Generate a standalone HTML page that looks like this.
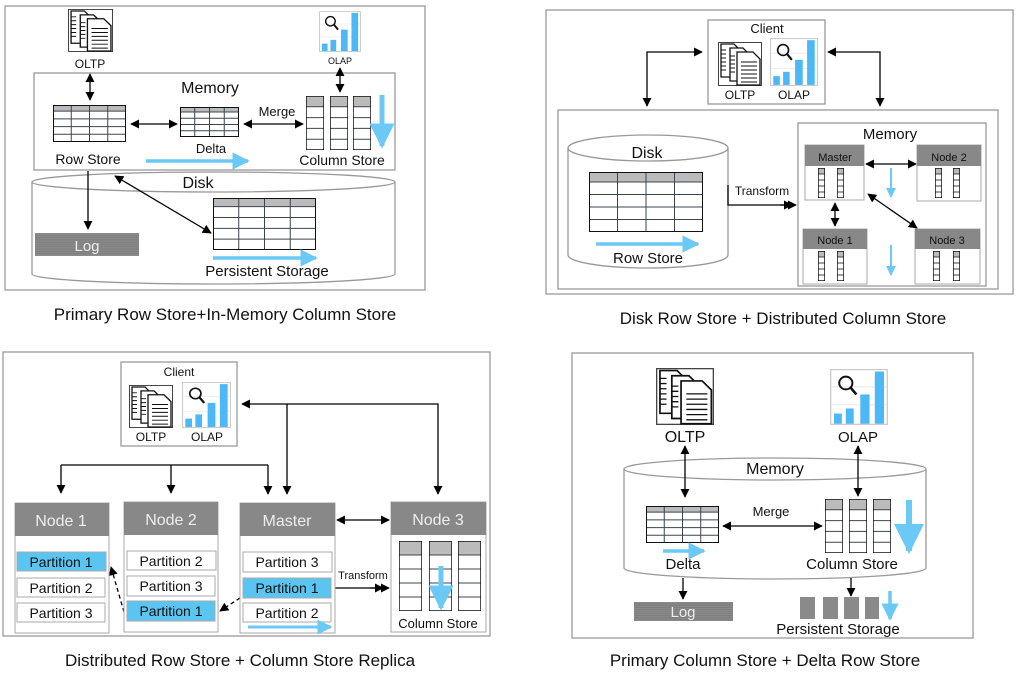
<!DOCTYPE html>
<html><head><meta charset="utf-8"><style>
html,body{margin:0;padding:0;background:#fff;}
svg{display:block;font-family:"Liberation Sans",Arial,sans-serif;}
</style></head><body>
<svg width="1024" height="684" viewBox="0 0 1024 684" xmlns="http://www.w3.org/2000/svg">
<defs>
<marker id="a" viewBox="0 0 10 10" refX="9" refY="5" markerWidth="7" markerHeight="7" orient="auto-start-reverse"><path d="M0,0 L10,5 L0,10 z" fill="#000"/></marker>
<marker id="b" viewBox="0 0 10 10" refX="9" refY="5" markerWidth="5" markerHeight="5" orient="auto-start-reverse"><path d="M0,0 L10,5 L0,10 z" fill="#6cc8f5"/></marker>
<symbol id="oltp" viewBox="0 0 44 44" preserveAspectRatio="none">
<rect x="0.5" y="0.5" width="43" height="43" fill="#fff" stroke="#444"/>
<path d="M3,2 h13 l5,5 v28 h-18z" fill="#fff" stroke="#111" stroke-width="1.3"/>
<path d="M3,8 h5 M3,12 h5 M3,16 h5 M3,20 h5 M3,24 h5 M3,28 h5" stroke="#111"/>
<path d="M12,6 h13 l5,5 v28 h-18z" fill="#fff" stroke="#111" stroke-width="1.3"/>
<path d="M12,14 h5 M12,18 h5 M12,22 h5 M12,26 h5 M12,30 h5" stroke="#111"/>
<path d="M19,10 h16 l7,7 v26 h-23z" fill="#fff" stroke="#111" stroke-width="1.3"/>
<path d="M23,20 h16 M23,24 h16 M23,28 h16 M23,32 h16 M23,36 h16 M23,40 h16" stroke="#111"/>
</symbol>
<symbol id="olap" viewBox="0 0 44 44" preserveAspectRatio="none">
<rect x="0.5" y="0.5" width="43" height="43" fill="#fff" stroke="#ccc"/>
<path d="M1,14 h42 M1,28 h42" stroke="#eee"/>
<circle cx="12" cy="11" r="5" fill="none" stroke="#111" stroke-width="1.5"/>
<path d="M15.5,14.5 L20,20" stroke="#111" stroke-width="2"/>
<rect x="3" y="35" width="6" height="8" fill="#4cb8f5"/>
<rect x="12" y="31" width="6" height="12" fill="#4cb8f5"/>
<rect x="23" y="20" width="7" height="23" fill="#4cb8f5"/>
<rect x="34" y="2" width="7" height="41" fill="#4cb8f5"/>
</symbol>
<symbol id="tbl" viewBox="0 0 100 60" preserveAspectRatio="none">
<rect x="0" y="0" width="100" height="60" fill="#fff"/>
<rect x="0" y="0" width="100" height="10" fill="#bbb"/>
<g stroke="#3a4550" stroke-width="1" fill="none">
<path d="M0,10H100M0,22.5H100M0,35H100M0,47.5H100M25,0V60M50,0V60M75,0V60" vector-effect="non-scaling-stroke"/>
<rect x="0" y="0" width="100" height="60" vector-effect="non-scaling-stroke" stroke="#111" stroke-width="2"/>
</g>
</symbol>
<symbol id="col" viewBox="0 0 20 60" preserveAspectRatio="none">
<rect x="0" y="0" width="20" height="60" fill="#fff"/>
<rect x="0" y="0" width="20" height="12" fill="#bbb"/>
<path d="M0,12H20M0,24H20M0,36H20M0,48H20" stroke="#3a4550" vector-effect="non-scaling-stroke"/>
<rect x="0" y="0" width="20" height="60" fill="none" stroke="#111" stroke-width="1.5" vector-effect="non-scaling-stroke"/>
</symbol>
<symbol id="log" viewBox="0 0 100 20" preserveAspectRatio="none">
<rect width="100" height="20" fill="#8a8a8a"/>
<path d="M0,2H100M0,4H100M0,6H100M0,8H100M0,10H100M0,12H100M0,14H100M0,16H100M0,18H100" stroke="#777" stroke-width="0.6" vector-effect="non-scaling-stroke"/>
</symbol>
</defs>

<g fill="none" stroke="#000" stroke-width="1.3">
<rect x="5" y="6" width="420" height="284" stroke="#999" fill="none"/>
<rect x="34" y="73" width="361" height="97" stroke="#999"/>
<path d="M32,182 V274 A181.5,10 0 0 0 395,274 V182" stroke="#999"/>
<ellipse cx="213.5" cy="182" rx="181.5" ry="10" stroke="#999"/>
<path d="M90,74 V100" marker-start="url(#a)" marker-end="url(#a)"/>
<path d="M340,68 V92" marker-start="url(#a)" marker-end="url(#a)"/>
<path d="M131,124 H177" marker-start="url(#a)" marker-end="url(#a)"/>
<path d="M244,124 H303" marker-start="url(#a)" marker-end="url(#a)"/>
<path d="M88,171 V229" marker-end="url(#a)"/>
<path d="M115,176 L211,233" marker-start="url(#a)" marker-end="url(#a)"/>
</g>
<use href="#oltp" x="68" y="9" width="45" height="43"/>
<use href="#olap" x="319" y="11" width="42" height="41"/>
<use href="#tbl" x="53" y="105" width="73" height="37"/>
<use href="#tbl" x="180" y="107" width="59" height="30"/>
<use href="#col" x="306" y="96" width="18" height="54"/>
<use href="#col" x="330" y="96" width="18" height="54"/>
<use href="#col" x="353" y="96" width="18" height="54"/>
<use href="#tbl" x="213" y="198" width="103" height="52"/>
<use href="#log" x="35" y="233" width="104" height="23"/>
<g stroke="#6cc8f5" fill="none">
<path d="M382,95 V146" stroke-width="5" marker-end="url(#b)"/>
<path d="M146,161 H248" stroke-width="3.5" marker-end="url(#b)"/>
<path d="M213,258 H316" stroke-width="3.5" marker-end="url(#b)"/>
</g>
<g font-size="12" fill="#111" text-anchor="middle">
<text x="90" y="68">OLTP</text>
<text x="340" y="64" font-size="9">OLAP</text>
<text x="210" y="93" font-size="16">Memory</text>
<text x="277" y="116" font-size="13">Merge</text>
<text x="211" y="153" font-size="13">Delta</text>
<text x="88" y="164" font-size="14">Row Store</text>
<text x="342" y="165" font-size="14">Column Store</text>
<text x="198" y="188" font-size="16">Disk</text>
<text x="87" y="251" font-size="15" fill="#eee">Log</text>
<text x="267" y="276" font-size="15">Persistent Storage</text>
<text x="225" y="320" font-size="17">Primary Row Store+In-Memory Column Store</text>
</g>

<g fill="none" stroke="#000" stroke-width="1.3">
<rect x="546" y="10" width="467" height="284" stroke="#999"/>
<rect x="708" y="20" width="117" height="84" stroke="#999"/>
<rect x="558" y="110" width="440" height="179" stroke="#999"/>
<path d="M568,148 V255 A80,13 0 0 0 728,255 V148" stroke="#999"/>
<ellipse cx="648" cy="148" rx="80" ry="13" stroke="#999"/>
<rect x="798" y="123" width="188" height="163" stroke="#999"/>
<path d="M702,52 H647 V106" marker-start="url(#a)" marker-end="url(#a)"/>
<path d="M828,52 H880 V106" marker-start="url(#a)" marker-end="url(#a)"/>
<path d="M728,185 V205 H796" marker-end="url(#a)"/>
<path d="M780,205 H792" marker-end="url(#a)"/>
<path d="M866,164 H916" marker-start="url(#a)" marker-end="url(#a)"/>
<path d="M835,203 V226" marker-start="url(#a)" marker-end="url(#a)"/>
<path d="M868,194 L917,228" marker-start="url(#a)" marker-end="url(#a)"/>
</g>
<use href="#oltp" x="718" y="42" width="44" height="44"/>
<use href="#olap" x="770" y="38" width="48" height="48"/>
<use href="#tbl" x="589" y="172" width="114" height="60"/>
<g stroke="#6cc8f5" fill="none">
<path d="M596,244 H698" stroke-width="3.5" marker-end="url(#b)"/>
<path d="M891,168 V197" stroke-width="2" marker-end="url(#b)"/>
<path d="M891,245 V275" stroke-width="2" marker-end="url(#b)"/>
</g>
<g stroke="#aaa" fill="#fff">
<rect x="805" y="145" width="59" height="55"/><rect x="805" y="145" width="59" height="21" fill="#888" stroke="none"/>
<rect x="917" y="145" width="64" height="56"/><rect x="917" y="145" width="64" height="21" fill="#888" stroke="none"/>
<rect x="803" y="229" width="64" height="55"/><rect x="803" y="229" width="64" height="20" fill="#888" stroke="none"/>
<rect x="915" y="229" width="65" height="55"/><rect x="915" y="229" width="65" height="20" fill="#888" stroke="none"/>
</g>
<use href="#col" x="818" y="168" width="7" height="30"/><use href="#col" x="837" y="168" width="7" height="30"/>
<use href="#col" x="935" y="168" width="7" height="30"/><use href="#col" x="953" y="168" width="7" height="30"/>
<use href="#col" x="818" y="251" width="7" height="30"/><use href="#col" x="837" y="251" width="7" height="30"/>
<use href="#col" x="933" y="251" width="7" height="30"/><use href="#col" x="953" y="251" width="7" height="30"/>
<g font-size="12" fill="#111" text-anchor="middle">
<text x="767" y="33" font-size="13">Client</text>
<text x="740" y="99">OLTP</text>
<text x="794" y="99">OLAP</text>
<text x="647" y="158" font-size="16">Disk</text>
<text x="648" y="263" font-size="15">Row Store</text>
<text x="762" y="195" font-size="12">Transform</text>
<text x="890" y="139" font-size="15">Memory</text>
<text x="835" y="161" font-size="11">Master</text>
<text x="949" y="161" font-size="11">Node 2</text>
<text x="835" y="244" font-size="11">Node 1</text>
<text x="947" y="244" font-size="11">Node 3</text>
<text x="783" y="324" font-size="17">Disk Row Store + Distributed Column Store</text>
</g>

<g fill="none" stroke="#000" stroke-width="1.3">
<rect x="3" y="352" width="487" height="284" stroke="#999"/>
<rect x="121" y="362" width="116" height="84" stroke="#999"/>
<path d="M242,404 H438 V494" marker-start="url(#a)" marker-end="url(#a)"/>
<path d="M287,404 V494" marker-end="url(#a)"/>
<path d="M61,465 H268"/>
<path d="M61,465 V493" marker-end="url(#a)"/>
<path d="M171,465 V493" marker-end="url(#a)"/>
<path d="M268,465 V494" marker-end="url(#a)"/>
<path d="M337,520 H389" marker-start="url(#a)" marker-end="url(#a)"/>
<path d="M333,588 H389" marker-end="url(#a)"/>
<path d="M370,588 H383" marker-end="url(#a)"/>
<path d="M240,598 L220,611" stroke-dasharray="4,3" marker-end="url(#a)"/>
<path d="M124,612 L111,567" stroke-dasharray="4,3" marker-end="url(#a)"/>
</g>
<use href="#oltp" x="129" y="385" width="44" height="43"/>
<use href="#olap" x="182" y="382" width="49" height="46"/>
<g stroke="#aaa" fill="#fff">
<rect x="15" y="503" width="94" height="130"/><rect x="15" y="503" width="94" height="33" fill="#888" stroke="none"/>
<rect x="124" y="502" width="94" height="130"/><rect x="124" y="502" width="94" height="33" fill="#888" stroke="none"/>
<rect x="240" y="503" width="95" height="130"/><rect x="240" y="503" width="95" height="33" fill="#888" stroke="none"/>
<rect x="391" y="502" width="95" height="130"/><rect x="391" y="502" width="95" height="33" fill="#888" stroke="none"/>
<rect x="17" y="552" width="89" height="19" fill="#5bc5f2"/>
<rect x="17" y="578" width="88" height="19"/>
<rect x="17" y="603" width="88" height="19"/>
<rect x="127" y="551" width="89" height="19"/>
<rect x="127" y="576" width="88" height="20"/>
<rect x="127" y="601" width="88" height="20" fill="#5bc5f2"/>
<rect x="243" y="552" width="89" height="20"/>
<rect x="243" y="578" width="88" height="20" fill="#5bc5f2"/>
<rect x="243" y="603" width="88" height="19"/>
</g>
<use href="#col" x="399" y="541" width="23" height="70"/>
<use href="#col" x="429" y="541" width="23" height="70"/>
<use href="#col" x="458" y="541" width="23" height="70"/>
<g stroke="#6cc8f5" fill="none">
<path d="M248,627 H331" stroke-width="3" marker-end="url(#b)"/>
<path d="M441,566 V608" stroke-width="5" marker-end="url(#b)"/>
</g>
<g font-size="14" fill="#111" text-anchor="middle">
<text x="179" y="376" font-size="12">Client</text>
<text x="151" y="441" font-size="12">OLTP</text>
<text x="207" y="441" font-size="12">OLAP</text>
<text x="61" y="526" font-size="16" fill="#eee">Node 1</text>
<text x="171" y="525" font-size="16" fill="#eee">Node 2</text>
<text x="287" y="526" font-size="16" fill="#eee">Master</text>
<text x="438" y="525" font-size="16" fill="#eee">Node 3</text>
<text x="61" y="567">Partition 1</text>
<text x="61" y="593">Partition 2</text>
<text x="61" y="618">Partition 3</text>
<text x="171" y="566">Partition 2</text>
<text x="171" y="591">Partition 3</text>
<text x="171" y="616">Partition 1</text>
<text x="287" y="567">Partition 3</text>
<text x="287" y="593">Partition 1</text>
<text x="287" y="618">Partition 2</text>
<text x="363" y="579" font-size="11">Transform</text>
<text x="438" y="628" font-size="13">Column Store</text>
<text x="240" y="666" font-size="17">Distributed Row Store + Column Store Replica</text>
</g>

<g fill="none" stroke="#000" stroke-width="1.3">
<rect x="572" y="353" width="401" height="285" stroke="#999"/>
<path d="M624,469 V568 A151,11 0 0 0 926,568 V469" stroke="#999"/>
<ellipse cx="775" cy="469" rx="151" ry="11" stroke="#999"/>
<path d="M685,446 V497" marker-start="url(#a)" marker-end="url(#a)"/>
<path d="M858,446 V496" marker-start="url(#a)" marker-end="url(#a)"/>
<path d="M723,526 H822" marker-start="url(#a)" marker-end="url(#a)"/>
<path d="M683,578 V599" marker-end="url(#a)"/>
<path d="M851,578 V596" marker-end="url(#a)"/>
</g>
<use href="#oltp" x="656" y="368" width="58" height="57"/>
<use href="#olap" x="830" y="369" width="58" height="56"/>
<use href="#tbl" x="646" y="506" width="73" height="37"/>
<use href="#col" x="825" y="499" width="18" height="54"/>
<use href="#col" x="849" y="499" width="18" height="54"/>
<use href="#col" x="873" y="499" width="18" height="54"/>
<use href="#log" x="634" y="602" width="99" height="19"/>
<g fill="#8a8a8a">
<rect x="800" y="597" width="15" height="22"/><rect x="823" y="597" width="15" height="22"/>
<rect x="844" y="597" width="15" height="22"/><rect x="865" y="597" width="14" height="22"/>
</g>
<g stroke="#6cc8f5" fill="none">
<path d="M663,551 H704" stroke-width="3.5" marker-end="url(#b)"/>
<path d="M909,500 V551" stroke-width="6" marker-end="url(#b)"/>
<path d="M890,591 V619" stroke-width="3.5" marker-end="url(#b)"/>
</g>
<g font-size="15" fill="#111" text-anchor="middle">
<text x="685" y="442" font-size="16">OLTP</text>
<text x="858" y="442" font-size="15">OLAP</text>
<text x="775" y="474" font-size="16">Memory</text>
<text x="771" y="516" font-size="13">Merge</text>
<text x="683" y="569">Delta</text>
<text x="852" y="569">Column Store</text>
<text x="683" y="617" fill="#eee">Log</text>
<text x="838" y="634">Persistent Storage</text>
<text x="765" y="666" font-size="17">Primary Column Store + Delta Row Store</text>
</g>
</svg>
</body></html>
